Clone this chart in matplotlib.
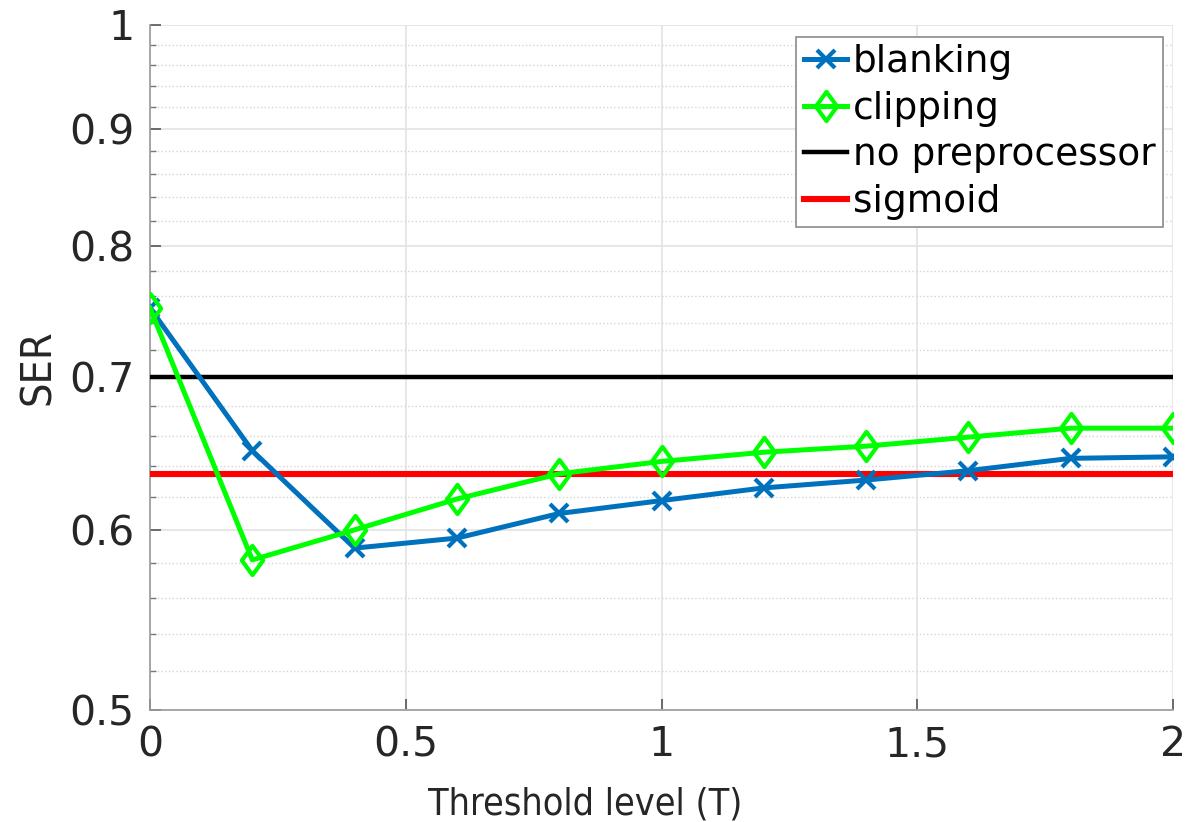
import matplotlib
matplotlib.use('Agg')
import matplotlib.pyplot as plt
from matplotlib import font_manager
from matplotlib.path import Path
from matplotlib.ticker import FixedLocator, NullFormatter
import numpy as np

# threshold levels
T = [0, 0.2, 0.4, 0.6, 0.8, 1.0, 1.2, 1.4, 1.6, 1.8, 2.0]
# SER values
blanking = [0.751, 0.650, 0.589, 0.595, 0.610, 0.618, 0.626, 0.631, 0.637, 0.645, 0.646]
clipping = [0.751, 0.582, 0.600, 0.619, 0.635, 0.643, 0.649, 0.653, 0.659, 0.665, 0.665]
no_pre = 0.700
sigmoid = 0.635

y_major = [0.5, 0.6, 0.7, 0.8, 0.9, 1.0]
y_labels = ['0.5', '0.6', '0.7', '0.8', '0.9', '1']
x_major = [0, 0.5, 1, 1.5, 2]
x_labels = ['0', '0.5', '1', '1.5', '2']

# matlab style diamond (taller than wide)
diamond = Path([(0, 1), (0.73, 0), (0, -1), (-0.73, 0), (0, 1)],
               [Path.MOVETO, Path.LINETO, Path.LINETO, Path.LINETO, Path.CLOSEPOLY])

# axis labels in the reference look squeezed; use a condensed face if there is one
fp = font_manager.FontProperties(family='DejaVu Sans', stretch='condensed')
if 'Condensed' in font_manager.findfont(fp):
    lab_kw = dict(family='DejaVu Sans', stretch='condensed')
    xl_size, yl_size = 27, 31
else:
    lab_kw = dict(family='DejaVu Sans')
    xl_size, yl_size = 25, 29

fig = plt.figure(figsize=(11.85, 8.22), dpi=100)
ax = fig.add_axes([150/1185, 112/822, 1023/1185, 685/822])

ax.plot(T, blanking, color='#0072BD', lw=3.6, marker='x', ms=13, mew=3,
        label='blanking', zorder=4)
ax.plot(T, clipping, color='#00FF00', lw=3.6, marker=diamond, ms=21,
        mfc='none', mew=3, label='clipping', zorder=5)
ax.plot([T[0], T[-1]], [no_pre, no_pre], color='black', lw=3.2,
        label='no preprocessor', zorder=3)
ax.plot([T[0], T[-1]], [sigmoid, sigmoid], color='#FF0000', lw=4.4,
        label='sigmoid', zorder=3)

ax.set_yscale('log')
ax.set_xlim(0, 2)
ax.set_ylim(0.5, 1)
ax.yaxis.set_major_locator(FixedLocator(y_major))
ax.set_yticklabels(y_labels)
minor = [v for v in np.arange(0.52, 1.0, 0.02) if min(abs(v - m) for m in y_major) > 1e-6]
ax.yaxis.set_minor_locator(FixedLocator(minor))
ax.yaxis.set_minor_formatter(NullFormatter())
ax.set_xticks(x_major)
ax.set_xticklabels(x_labels)

ax.grid(True, which='major', color='#e3e3e3', lw=1.2, ls='-', zorder=0)
ax.grid(True, which='minor', axis='y', color='#d5d5d5', lw=1.0, ls=':', zorder=0)
ax.set_axisbelow(True)

for s in ['top', 'right']:
    ax.spines[s].set_visible(False)
for s in ['left', 'bottom']:
    ax.spines[s].set_color('#9a9a9a')
    ax.spines[s].set_linewidth(1.2)

ax.tick_params(which='major', direction='in', length=8, width=1.2, color='#555555',
               labelsize=29.5, labelcolor='#262626', pad=11)
ax.tick_params(which='minor', direction='in', length=4, width=1.0, color='#777777')
ax.tick_params(axis='x', which='minor', bottom=False)

ax.set_xlabel('Threshold level (T)', fontsize=xl_size, color='#262626', **lab_kw)
ax.xaxis.set_label_coords(0.425, -0.152)
ax.xaxis.label.set_va('baseline')
ax.set_ylabel('SER', fontsize=yl_size, color='#262626', **lab_kw)
ax.yaxis.set_label_coords(-0.1095, 0.5)
ax.yaxis.label.set_va('center')

leg = ax.legend(loc='upper right', bbox_to_anchor=(0.9902, 0.9825), borderaxespad=0,
                fontsize=27, handlelength=1.15, handletextpad=0.15, labelspacing=0.28,
                borderpad=0.2, fancybox=False, framealpha=1, edgecolor='#8a8a8a')
leg.get_frame().set_linewidth(1.2)

fig.savefig('out.png', dpi=100)
